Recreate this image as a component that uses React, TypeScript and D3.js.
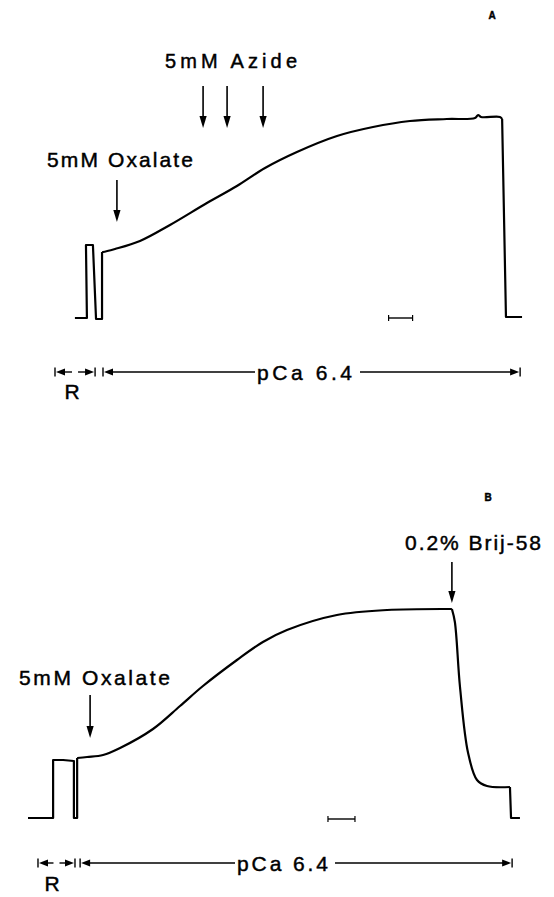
import React from "react";
import * as d3 from "d3";

// ---------- DATA (time in min, signal in arbitrary units) ----------
// Panel A
const aSpikeT = [0.83, 1.33, 1.29, 1.58, 1.71, 1.96, 1.96];
const aSpikeS = [0, 0, 36.5, 36.5, -0.5, -0.5, 33];
const aRampT = [1.96, 2.0, 2.5, 3.54, 4.79, 6.33, 7.58, 8.75, 10.08, 11.75, 13.25, 14.79, 16.33, 17.5, 17.63, 17.75, 18.54, 18.63];
const aRampS = [33, 33, 34.5, 38.5, 46.5, 57.5, 66, 75, 83, 91, 95.5, 98.5, 99.5, 100, 101.5, 100.5, 100.5, 99.5];
const aTailT = [18.63, 18.79, 19.46];
const aTailS = [99.5, 0.5, 0.5];
const aAzideTimes = [6.17, 7.17, 8.67];
const aOxalateTime = 2.58;
const aScaleBar = [13.9, 14.9];
const aRSpan = [0, 1.67];
const aPcaSpan = [2.0, 19.38];

// Panel B
const bSpikeT = [0, 0.93, 0.93, 1.3, 1.7, 1.7, 1.82, 1.82];
const bSpikeS = [0, 0, 29, 29, 28.5, 0, 0, 30];
const bRampT = [1.82, 2.19, 2.78, 3.41, 4.63, 5.63, 6.48, 7.74, 8.7, 9.59, 11.44, 13.3, 15.7];
const bRampS = [30, 30.5, 31.5, 35, 44.5, 56, 66, 79, 88, 94, 101.5, 104, 104.5];
const bDropT = [15.7, 15.81, 16.0, 16.3, 16.63, 17.0, 17.85];
const bDropS = [104.5, 98, 65.5, 32.5, 19, 16, 15.5];
const bTailT = [17.85, 17.89, 18.22];
const bTailS = [15.5, 0, 0];
const bOxalateTime = 2.3;
const bBrijTime = 15.7;
const bScaleBar = [11.11, 12.11];
const bRSpan = [0.37, 1.74];
const bPcaSpan = [1.93, 17.93];

const FONT = "'Liberation Sans', Arial, sans-serif";

type Pt = [number, number];
const zip = (t: number[], s: number[]): Pt[] => t.map((v, i) => [v, s[i]]);

function DownArrow({ x, y1, y2 }: { x: number; y1: number; y2: number }) {
  const hl = 12, hw = 3.6;
  return (
    <g>
      <line x1={x} x2={x} y1={y1} y2={y2 - hl + 2} stroke="#000" strokeWidth={1.6} />
      <path d={`M${x - hw},${y2 - hl} L${x + hw},${y2 - hl} L${x},${y2} Z`} fill="#000" />
    </g>
  );
}

function Bracket({ x1, x2, y, gap }: { x1: number; x2: number; y: number; gap?: [number, number] }) {
  const hl = 9, hw = 3.5;
  const g = gap || [(x1 + x2) / 2 - 3, (x1 + x2) / 2 + 3];
  return (
    <g>
      <line x1={x1} x2={x1} y1={y - 4.5} y2={y + 4.5} stroke="#000" strokeWidth={1.4} />
      <line x1={x2} x2={x2} y1={y - 4.5} y2={y + 4.5} stroke="#000" strokeWidth={1.4} />
      <path d={`M${x1 + 1},${y} L${x1 + 1 + hl},${y - hw} L${x1 + 1 + hl},${y + hw} Z`} fill="#000" />
      <path d={`M${x2 - 1},${y} L${x2 - 1 - hl},${y - hw} L${x2 - 1 - hl},${y + hw} Z`} fill="#000" />
      <line x1={x1 + 8} x2={g[0]} y1={y} y2={y} stroke="#000" strokeWidth={1.4} />
      <line x1={g[1]} x2={x2 - 8} y1={y} y2={y} stroke="#000" strokeWidth={1.4} />
    </g>
  );
}

function Panel(props: {
  x: d3.ScaleLinear<number, number>;
  y: d3.ScaleLinear<number, number>;
  spike: Pt[];
  ramps: Pt[][];
  tail: Pt[];
}) {
  const { x, y } = props;
  const lin = d3.line<Pt>().x((d) => x(d[0])).y((d) => y(d[1]));
  const smooth = d3
    .line<Pt>()
    .x((d) => x(d[0]))
    .y((d) => y(d[1]))
    .curve(d3.curveCatmullRom.alpha(0.5));
  const st = { fill: "none", stroke: "#000", strokeWidth: 2.2, strokeLinejoin: "round" as const };
  return (
    <g>
      <path d={lin(props.spike) || ""} {...st} />
      {props.ramps.map((r, i) => (
        <path key={i} d={smooth(r) || ""} {...st} />
      ))}
      <path d={lin(props.tail) || ""} {...st} />
    </g>
  );
}

export default function App() {
  const xA = d3.scaleLinear().domain([0, 20]).range([55, 535]);
  const yA = d3.scaleLinear().domain([0, 100]).range([318, 118]);
  const xB = d3.scaleLinear().domain([0, 20]).range([28, 568]);
  const yB = d3.scaleLinear().domain([0, 100]).range([818, 618]);

  const txt = (s: string, x: number, y: number, size: number, len?: number, anchor = "start", weight = "normal") => (
    <text
      x={x}
      y={y}
      fontFamily={FONT}
      fontSize={size}
      fontWeight={weight}
      textAnchor={anchor}
      textLength={len}
      lengthAdjust={len ? "spacing" : undefined}
      fill="#000"
      stroke="#000"
      strokeWidth={0.45}
    >
      {s}
    </text>
  );

  return (
    <svg
      width={554}
      height={897}
      style={{ position: "absolute", left: 0, top: 0, background: "#fff" }}
    >
      <rect width={554} height={897} fill="#fff" />
      {/* Panel A */}
      {txt("A", 492, 19, 10, undefined, "middle", "bold")}
      {txt("5mM  Azide", 165, 68, 20, 132)}
      {aAzideTimes.map((t, i) => (
        <DownArrow key={i} x={xA(t)} y1={86} y2={128} />
      ))}
      {txt("5mM Oxalate", 47, 167, 21, 146)}
      <DownArrow x={xA(aOxalateTime)} y1={180} y2={222} />
      <Panel x={xA} y={yA} spike={zip(aSpikeT, aSpikeS)} ramps={[zip(aRampT, aRampS)]} tail={zip(aTailT, aTailS)} />
      <line x1={xA(aScaleBar[0])} x2={xA(aScaleBar[1])} y1={318} y2={318} stroke="#000" strokeWidth={1.4} />
      <line x1={xA(aScaleBar[0])} x2={xA(aScaleBar[0])} y1={315} y2={321} stroke="#000" strokeWidth={1.2} />
      <line x1={xA(aScaleBar[1])} x2={xA(aScaleBar[1])} y1={315} y2={321} stroke="#000" strokeWidth={1.2} />
      <Bracket x1={xA(aRSpan[0])} x2={xA(aRSpan[1])} y={372} />
      <Bracket x1={xA(aPcaSpan[0])} x2={xA(aPcaSpan[1])} y={372} gap={[255, 360]} />
      {txt("pCa 6.4", 257, 380, 21, 95)}
      {txt("R", 72, 399, 21, undefined, "middle")}

      {/* Panel B */}
      {txt("B", 488, 501, 10, undefined, "middle", "bold")}
      {txt("0.2% Brij-58", 405, 550, 21, 136)}
      <DownArrow x={xB(bBrijTime)} y1={562} y2={603} />
      {txt("5mM Oxalate", 19, 685, 21, 151)}
      <DownArrow x={xB(bOxalateTime)} y1={695} y2={738} />
      <Panel
        x={xB}
        y={yB}
        spike={zip(bSpikeT, bSpikeS)}
        ramps={[zip(bRampT, bRampS), zip(bDropT, bDropS)]}
        tail={zip(bTailT, bTailS)}
      />
      <line x1={xB(bScaleBar[0])} x2={xB(bScaleBar[1])} y1={819} y2={819} stroke="#000" strokeWidth={1.4} />
      <line x1={xB(bScaleBar[0])} x2={xB(bScaleBar[0])} y1={816} y2={822} stroke="#000" strokeWidth={1.2} />
      <line x1={xB(bScaleBar[1])} x2={xB(bScaleBar[1])} y1={816} y2={822} stroke="#000" strokeWidth={1.2} />
      <Bracket x1={xB(bRSpan[0])} x2={xB(bRSpan[1])} y={863} />
      <Bracket x1={xB(bPcaSpan[0])} x2={xB(bPcaSpan[1])} y={863} gap={[235, 335]} />
      {txt("pCa 6.4", 237, 871, 21, 91)}
      {txt("R", 52, 891, 21, undefined, "middle")}
    </svg>
  );
}
